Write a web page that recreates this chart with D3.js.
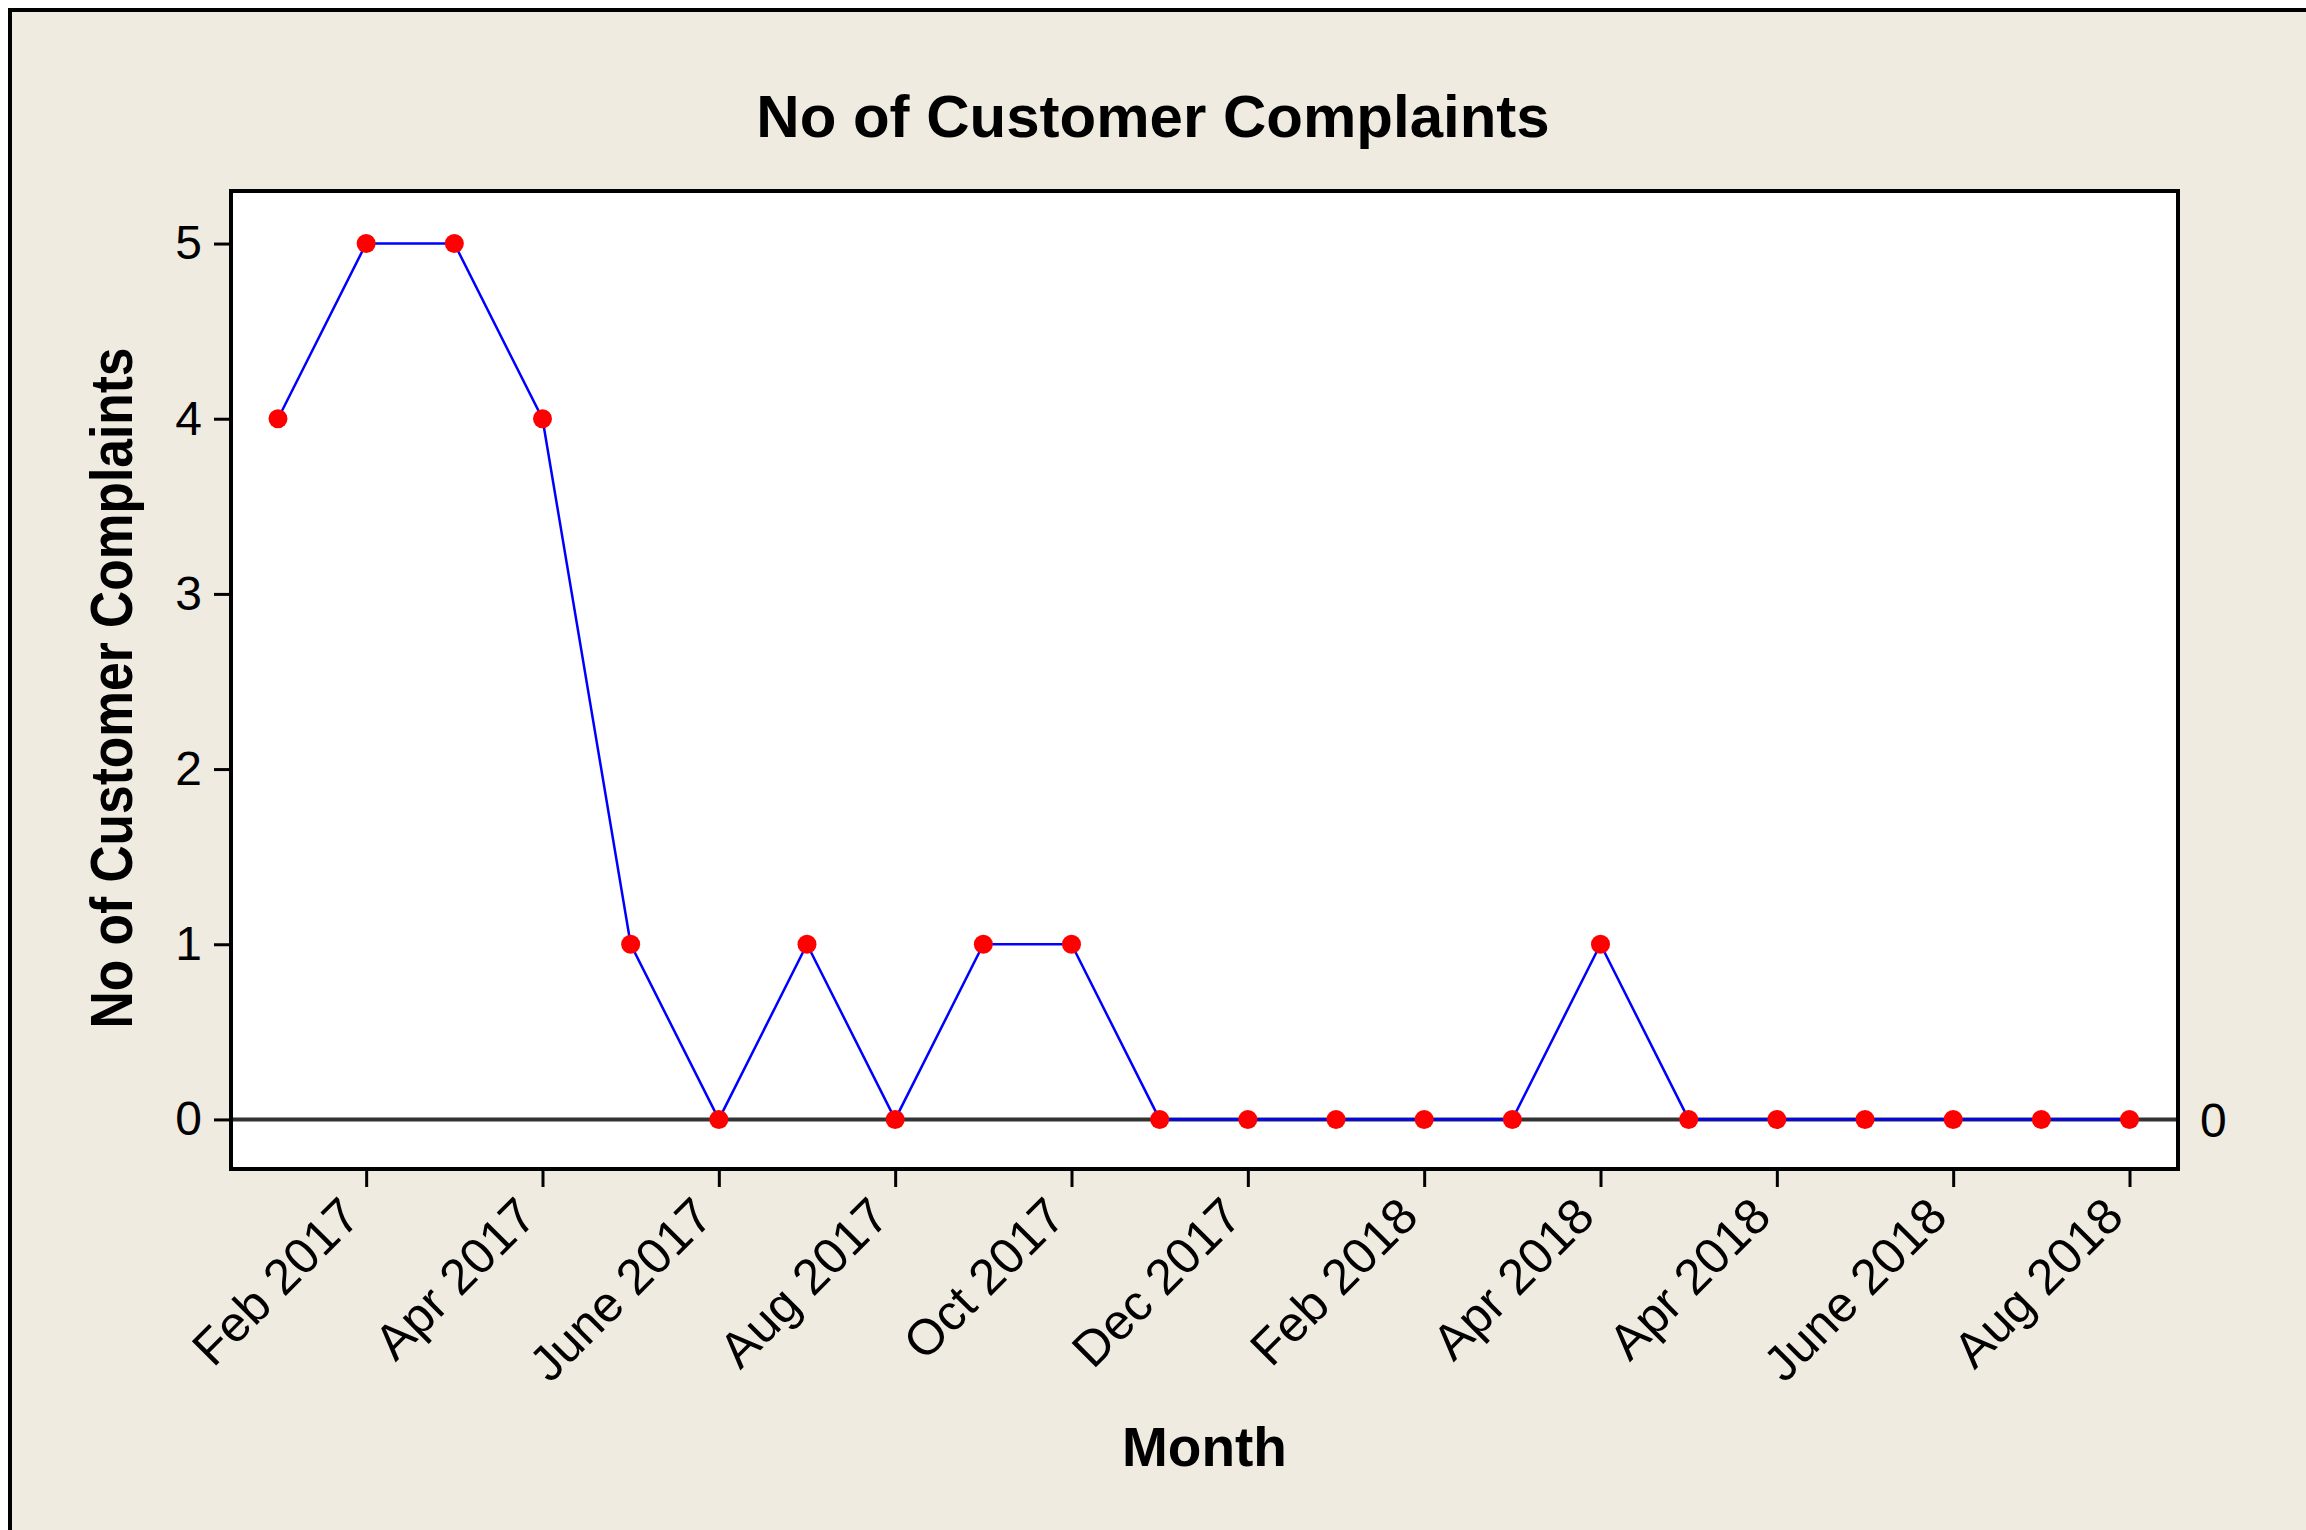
<!DOCTYPE html>
<html>
<head>
<meta charset="utf-8">
<script src="https://cdn.jsdelivr.net/npm/d3@7"></script>
<style>
  body { margin: 0; background: #ffffff; }
  svg { display: block; }
  text { font-family: "Liberation Sans", Arial, sans-serif; fill: #000; }
</style>
</head>
<body>
<svg id="chart" width="2306" height="1530"></svg>
<script>
// Monthly customer complaints, Jan 2017 .. Oct 2018 (one point per month)
var complaints = [4, 5, 5, 4, 1, 0, 1, 0, 1, 1, 0, 0, 0, 0, 0, 1, 0, 0, 0, 0, 0, 0];

// labels under every second point
var tickIndex = [1, 3, 5, 7, 9, 11, 13, 15, 17, 19, 21];
var tickLabels = ["Feb 2017", "Apr 2017", "June 2017", "Aug 2017", "Oct 2017", "Dec 2017",
                  "Feb 2018", "Apr 2018", "Apr 2018", "June 2018", "Aug 2018"];
var yTicks = [0, 1, 2, 3, 4, 5];
var refValue = 0;

var svg = d3.select("#chart");
var W = 2306, H = 1530;
var plot = {left: 231, top: 191, right: 2178, bottom: 1169};

// background panel with a frame that runs off the right/bottom edge
svg.append("rect")
        .attr("x", 10).attr("y", 10)
        .attr("width", W + 50).attr("height", H + 50)
        .attr("fill", "#efebe0")
        .attr("stroke", "#000")
        .attr("stroke-width", 4);

var x = d3.scaleLinear()
        .domain([-0.533, 21.55])
        .range([plot.left, plot.right]);

var y = d3.scaleLinear()
        .domain([-0.283, 5.3])
        .range([plot.bottom, plot.top]);

// data region
svg.append("rect")
        .attr("x", plot.left).attr("y", plot.top)
        .attr("width", plot.right - plot.left)
        .attr("height", plot.bottom - plot.top)
        .attr("fill", "#ffffff");

// reference line at 0
svg.append("line")
        .attr("x1", plot.left).attr("x2", plot.right)
        .attr("y1", y(refValue)).attr("y2", y(refValue))
        .attr("stroke", "#333333")
        .attr("stroke-width", 4);

svg.append("text")
        .attr("x", plot.right + 22)
        .attr("y", y(refValue))
        .attr("dy", "0.36em")
        .style("font-size", "48px")
        .text(refValue);

// series line + markers
var line = d3.line()
        .x((d, i) => x(i))
        .y((d) => y(d));

svg.append("path")
        .datum(complaints)
        .attr("d", line)
        .attr("fill", "none")
        .attr("stroke", "#0000ff")
        .attr("stroke-width", 2.5);

svg.append("g")
        .selectAll("circle")
        .data(complaints)
        .join("circle")
                .attr("cx", (d, i) => x(i))
                .attr("cy", (d) => y(d))
                .attr("r", 9.5)
                .attr("fill", "#ff0000");

// frame around the data region
svg.append("rect")
        .attr("x", plot.left).attr("y", plot.top)
        .attr("width", plot.right - plot.left)
        .attr("height", plot.bottom - plot.top)
        .attr("fill", "none")
        .attr("stroke", "#000")
        .attr("stroke-width", 4);

// axes
var xAxis = d3.axisBottom(x)
        .tickValues(tickIndex)
        .tickSize(16)
        .tickFormat((d, i) => tickLabels[i]);

var gx = svg.append("g")
        .attr("transform", "translate(0," + (plot.bottom + 2) + ")")
        .call(xAxis);
gx.select(".domain").remove();
gx.selectAll("line").attr("stroke", "#000").attr("stroke-width", 3);
gx.selectAll("text")
        .attr("x", 0).attr("y", 0).attr("dy", 0)
        .attr("transform", "translate(-4,48) rotate(-45)")
        .attr("text-anchor", "end")
        .style("font-size", "50px")
        .style("font-family", "'Liberation Sans', Arial, sans-serif");

var yAxis = d3.axisLeft(y)
        .tickValues(yTicks)
        .tickSize(15)
        .tickPadding(12)
        .tickFormat(d3.format("d"));

var gy = svg.append("g")
        .attr("transform", "translate(" + (plot.left - 2) + ",0)")
        .call(yAxis);
gy.select(".domain").remove();
gy.selectAll("line").attr("stroke", "#000").attr("stroke-width", 3);
gy.selectAll("text")
        .style("font-size", "48px")
        .style("font-family", "'Liberation Sans', Arial, sans-serif");

// titles
svg.append("text")
        .attr("x", W / 2)
        .attr("y", 137)
        .attr("text-anchor", "middle")
        .style("font-size", "60px")
        .style("font-weight", "bold")
        .text("No of Customer Complaints");

svg.append("text")
        .attr("x", (plot.left + plot.right) / 2)
        .attr("y", 1466)
        .attr("text-anchor", "middle")
        .style("font-size", "55px")
        .style("font-weight", "bold")
        .text("Month");

svg.append("text")
        .attr("transform", "translate(132,688) rotate(-90)")
        .attr("text-anchor", "middle")
        .attr("textLength", 681)
        .attr("lengthAdjust", "spacingAndGlyphs")
        .style("font-size", "60px")
        .style("font-weight", "bold")
        .text("No of Customer Complaints");
</script>
</body>
</html>
